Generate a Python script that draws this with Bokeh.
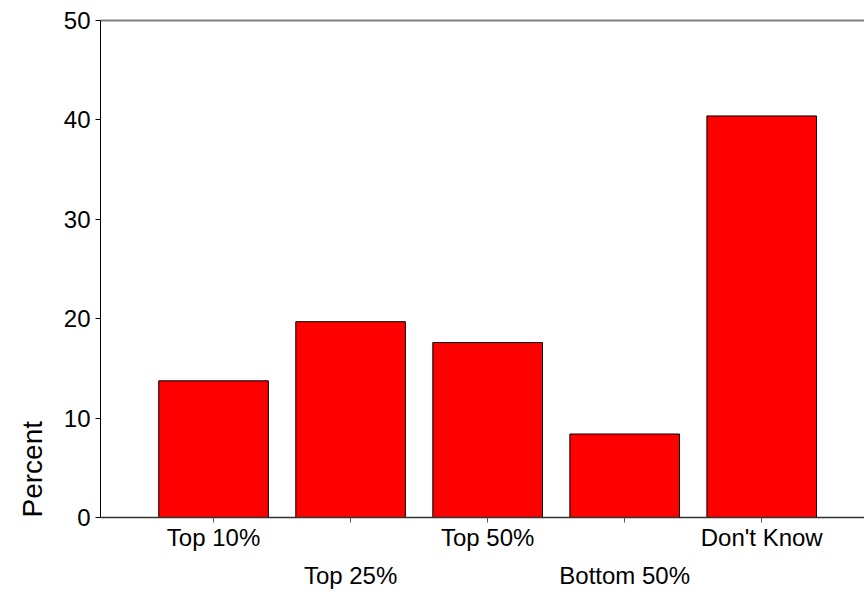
from bokeh.plotting import figure
from bokeh.models import Range1d, LinearAxis, FixedTicker, Title
from bokeh.embed import file_html
from bokeh.resources import INLINE

categories = ["Top 10%", "Top 25%", "Top 50%", "Bottom 50%", "Don't Know"]
percent = [13.75, 19.7, 17.6, 8.4, 40.4]
y_ticks = [0, 10, 20, 30, 40, 50]
y_title = "Percent"

FONT = "Liberation Sans"
xs = list(range(1, len(categories) + 1))

p = figure(width=864, height=594, output_backend="svg", toolbar_location=None,
           x_range=Range1d(0.175, 5.75), y_range=Range1d(0, 50),
           min_border_left=100, min_border_right=0, min_border_top=20,
           min_border_bottom=77, x_axis_location=None, y_axis_location="left")
p.outline_line_color = None
p.xgrid.visible = False
p.ygrid.visible = False
p.background_fill_color = "white"

p.vbar(x=xs, top=percent, width=0.8, fill_color="#FF0000",
       line_color="black", line_width=1)

ya = p.yaxis[0]
ya.ticker = FixedTicker(ticks=y_ticks)
ya.axis_line_color = "black"
ya.axis_line_width = 1
ya.major_tick_out = 5
ya.major_tick_in = 0
ya.minor_tick_line_color = None
ya.major_label_text_font = FONT
ya.major_label_text_font_size = "24px"
ya.major_label_text_color = "black"
ya.major_label_standoff = 5

odd = {x: (c if i % 2 == 0 else "") for i, (x, c) in enumerate(zip(xs, categories))}
even = {x: c for i, (x, c) in enumerate(zip(xs, categories)) if i % 2 == 1}

xa1 = LinearAxis(ticker=FixedTicker(ticks=xs), major_label_overrides=odd,
                 axis_line_color="#333333", axis_line_width=1.5,
                 major_tick_out=5, major_tick_in=0, minor_tick_line_color=None,
                 major_tick_line_color="#555555",
                 major_label_text_font=FONT, major_label_text_font_size="24px",
                 major_label_text_color="black", major_label_standoff=1)
p.add_layout(xa1, "below")

xa2 = LinearAxis(ticker=FixedTicker(ticks=[x for x in even]), major_label_overrides=even,
                 axis_line_color=None, major_tick_line_color=None,
                 minor_tick_line_color=None, major_tick_out=0, major_tick_in=0,
                 major_label_text_font=FONT, major_label_text_font_size="24px",
                 major_label_text_color="black", major_label_standoff=8)
p.add_layout(xa2, "below")

top_axis = LinearAxis(ticker=FixedTicker(ticks=[]), axis_line_color="#808080",
                      axis_line_width=2, major_tick_line_color=None,
                      minor_tick_line_color=None, major_label_text_font_size="0px")
p.add_layout(top_axis, "above")

p.add_layout(Title(text=y_title, align="left", text_font_size="28px",
                   text_font=FONT, text_font_style="normal", text_color="black",
                   standoff=26),
             "left")

open("out.html", "w").write(file_html(p, INLINE))
